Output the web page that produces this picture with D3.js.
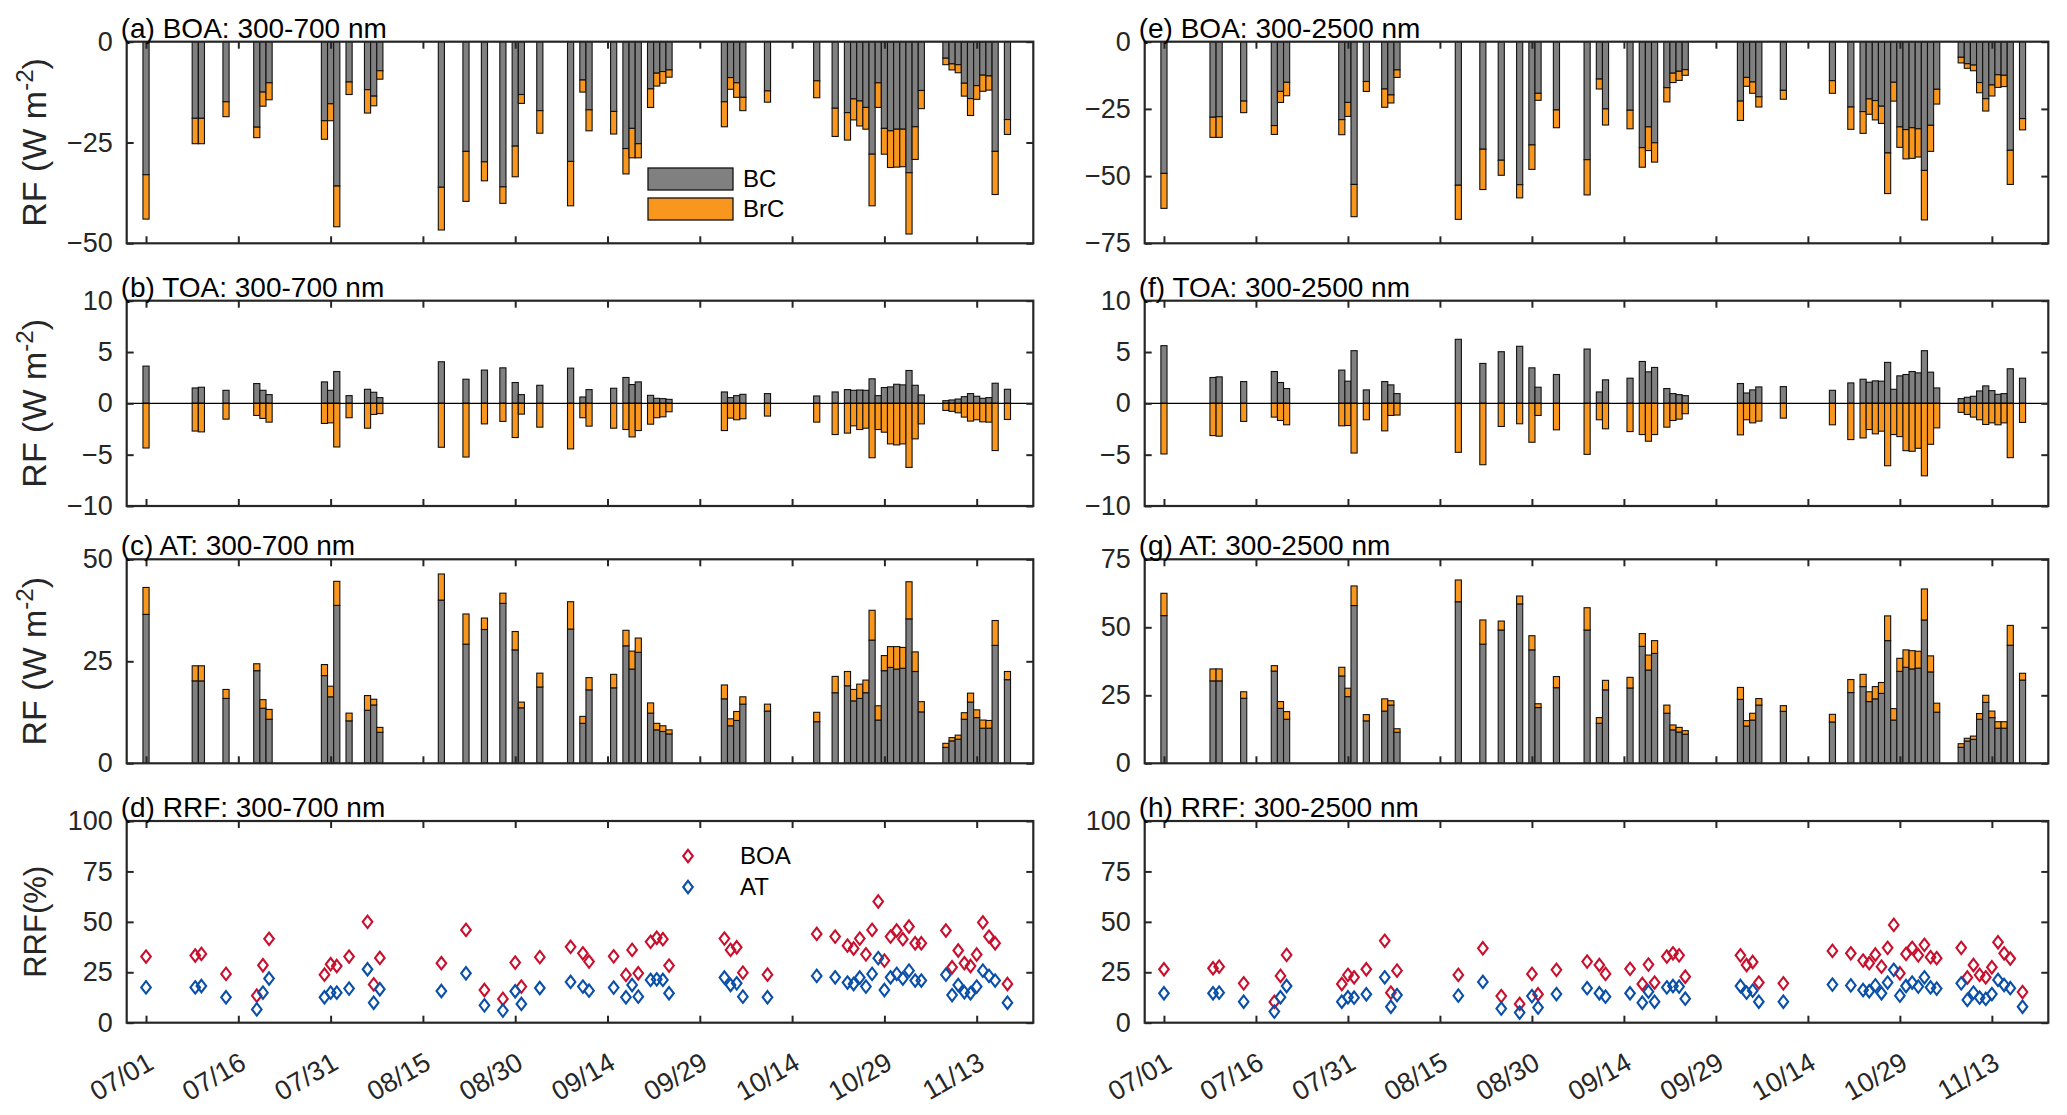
<!DOCTYPE html>
<html>
<head>
<meta charset="utf-8">
<script src="https://cdn.jsdelivr.net/npm/d3@7"></script>
<style>
  body { margin: 0; background: #fff; }
  svg { display: block; }
</style>
</head>
<body>
<div class="chart"></div>
<script>
// sampling days (MM/DD)
const dates = ['07/01','07/09','07/10','07/14','07/19','07/20','07/21','07/30','07/31','08/01',
  '08/03','08/06','08/07','08/08','08/18','08/22','08/25','08/28','08/30','08/31',
  '09/03','09/08','09/10','09/11','09/15','09/17','09/18','09/19','09/21','09/22',
  '09/23','09/24','10/03','10/04','10/05','10/06','10/10','10/18','10/21','10/23',
  '10/24','10/25','10/26','10/27','10/28','10/29','10/30','10/31','11/01','11/02',
  '11/03','11/04','11/08','11/09','11/10','11/11','11/12','11/13','11/14','11/15',
  '11/16','11/18'];
const tickDates = ['07/01','07/16','07/31','08/15','08/30','09/14','09/29','10/14','10/29','11/13'];

// 300-700 nm
const boa700BC = [-33.0,-19.0,-19.0,-14.9,-21.2,-12.5,-10.2,-19.6,-15.4,-35.8,-10.0,-11.9,-13.5,-7.2,-36.1,-27.2,-29.8,-36.0,-25.9,-13.1,
  -17.1,-29.7,-9.5,-16.9,-17.3,-26.5,-21.5,-25.3,-11.7,-7.8,-7.4,-7.0,-14.9,-8.9,-10.2,-13.8,-12.2,-9.7,-16.5,-17.6,
  -14.2,-14.7,-16.3,-27.9,-10.2,-21.5,-22.1,-21.7,-21.7,-32.5,-21.1,-12.1,-4.1,-5.5,-5.7,-10.3,-14.1,-10.9,-8.3,-8.5,-27.2,-19.3];
const boa700BrC = [-11.0,-6.3,-6.3,-3.7,-2.6,-3.5,-4.2,-4.6,-4.2,-10.1,-3.1,-5.8,-2.4,-2.1,-10.6,-12.4,-4.7,-4.1,-7.6,-2.2,
  -5.6,-11.0,-3.0,-5.2,-5.6,-6.3,-7.3,-3.5,-4.6,-3.2,-2.9,-1.8,-6.2,-2.9,-3.6,-3.3,-2.8,-4.2,-7.0,-6.8,
  -5.2,-6.2,-5.4,-12.8,-6.1,-6.4,-9.1,-9.4,-9.3,-15.2,-8.1,-4.5,-1.6,-1.5,-2.0,-3.2,-4.2,-3.4,-4.0,-3.5,-10.7,-3.7];
const toa700BC = [3.63,1.5,1.57,1.27,1.93,1.27,0.85,2.09,1.27,3.1,0.75,1.37,1.08,0.56,4.05,2.35,3.24,3.46,2.03,0.85,
  1.76,3.43,0.62,1.34,1.47,2.52,1.83,2.09,0.78,0.49,0.46,0.39,1.11,0.56,0.75,0.88,0.95,0.72,1.11,1.34,
  1.27,1.3,1.27,2.39,0.75,1.54,1.6,1.86,1.8,3.2,1.76,0.82,0.26,0.33,0.42,0.65,0.95,0.69,0.49,0.56,1.96,1.37];
const toa700BrC = [-4.35,-2.7,-2.78,-1.54,-1.18,-1.47,-1.83,-1.96,-1.9,-4.25,-1.4,-2.42,-1.08,-1.0,-4.28,-5.23,-2.0,-1.76,-3.33,-1.05,
  -2.32,-4.44,-1.4,-2.22,-2.42,-2.55,-3.27,-2.65,-2.03,-1.4,-1.31,-0.82,-2.65,-1.44,-1.6,-1.5,-1.24,-1.83,-3.04,-2.9,
  -2.19,-2.55,-2.42,-5.3,-2.55,-2.81,-3.95,-4.05,-3.95,-6.24,-3.46,-2.0,-0.69,-0.78,-0.92,-1.34,-1.73,-1.6,-1.8,-1.83,-4.6,-1.57];
const at700BC = [36.5,20.2,20.2,15.9,22.7,13.5,10.8,21.5,16.3,38.7,10.4,13.0,14.3,7.6,40.0,29.2,32.8,39.2,27.8,13.6,
  18.7,32.9,9.8,18.0,18.5,28.8,23.1,27.2,12.3,8.2,7.8,7.2,15.8,9.2,10.5,14.5,12.8,10.2,17.3,19.0,
  15.3,15.9,17.3,30.2,10.6,22.7,23.5,23.1,23.3,35.4,22.5,12.6,3.9,5.5,5.9,10.8,15.0,11.2,8.6,8.6,28.9,20.5];
const at700BrC = [6.6,3.7,3.7,2.2,1.7,2.1,2.4,2.7,2.6,5.9,1.9,3.6,1.4,1.2,6.4,7.4,2.8,2.5,4.5,1.4,
  3.4,6.7,1.7,3.0,3.3,3.8,4.4,3.5,2.5,1.6,1.4,1.0,3.4,1.7,2.2,1.8,1.7,2.3,4.0,3.5,
  2.8,3.5,3.1,7.3,3.5,3.7,5.1,5.5,5.1,9.1,4.8,2.5,1.0,0.8,1.0,1.6,2.2,1.9,2.0,1.9,6.1,2.0];
const rrf700BOA = [32.8,33.3,34.1,24.2,13.4,28.5,41.6,23.8,29.0,28.1,32.8,50.0,19.0,32.1,29.5,46.0,16.2,11.8,29.8,17.9,
  32.5,37.6,34.4,30.3,32.9,23.7,36.1,24.5,40.1,42.1,41.4,28.3,41.7,36.1,37.4,24.8,23.8,44.0,42.7,38.2,
  36.8,41.7,33.9,46.0,60.1,30.8,42.7,45.7,41.4,47.7,39.4,39.4,45.7,27.5,35.8,29.5,28.1,33.8,49.7,42.7,39.4,19.2];
const rrf700AT = [17.5,17.5,18.2,12.6,6.6,14.9,21.9,12.6,14.9,14.9,16.9,26.5,9.9,16.6,15.7,24.5,8.6,6.0,15.6,9.3,
  17.2,20.2,17.9,15.9,17.4,12.6,18.7,12.9,21.2,21.5,21.2,14.6,22.4,18.7,19.5,12.9,12.6,23.2,22.5,19.9,
  19.2,22.4,17.9,24.2,32.0,16.2,22.5,24.2,21.9,25.8,20.9,20.9,23.8,13.7,18.7,15.1,14.6,17.9,25.8,23.2,20.9,9.9];

// 300-2500 nm
const boa2500BC = [-49.0,-28.1,-27.9,-22.1,-31.2,-18.5,-15.1,-29.0,-22.6,-53.1,-14.8,-17.6,-19.8,-10.5,-53.4,-40.0,-44.1,-53.2,-38.4,-19.2,
  -25.4,-43.9,-13.9,-25.0,-25.5,-39.4,-31.7,-37.6,-17.1,-11.7,-11.0,-10.4,-22.1,-13.3,-15.0,-20.5,-18.1,-14.5,-24.3,-26.0,
  -21.3,-21.9,-24.0,-41.4,-15.1,-31.7,-32.7,-32.0,-32.4,-47.9,-31.1,-17.7,-5.8,-8.2,-8.7,-15.2,-21.2,-16.1,-12.3,-12.5,-40.4,-28.6];
const boa2500BrC = [-13.0,-7.5,-7.7,-4.3,-3.3,-4.1,-5.0,-5.6,-5.2,-12.0,-3.7,-6.8,-3.0,-2.8,-12.7,-15.0,-5.6,-4.9,-9.1,-2.6,
  -6.6,-13.1,-3.7,-6.0,-6.9,-7.3,-8.8,-7.2,-5.3,-3.5,-3.4,-2.1,-7.2,-3.3,-4.2,-3.8,-3.3,-4.7,-8.3,-8.1,
  -5.7,-7.2,-6.4,-15.1,-7.0,-7.6,-10.9,-11.4,-10.5,-18.4,-9.7,-5.5,-2.1,-1.7,-2.1,-3.8,-4.6,-4.1,-4.7,-4.2,-12.7,-4.2];
const toa2500BC = [5.62,2.52,2.58,2.12,3.1,2.03,1.44,3.24,2.16,5.13,1.31,2.12,1.8,0.95,6.24,3.89,5.03,5.56,3.46,1.57,
  2.81,5.29,1.11,2.29,2.45,4.08,3.07,3.5,1.44,0.95,0.85,0.75,1.93,1.01,1.31,1.6,1.63,1.27,1.99,2.35,
  2.06,2.19,2.16,3.99,1.37,2.68,2.81,3.1,2.97,5.13,3.04,1.5,0.46,0.59,0.69,1.21,1.7,1.24,0.88,0.95,3.37,2.45];
const toa2500BrC = [-4.93,-3.14,-3.2,-1.76,-1.34,-1.67,-2.09,-2.19,-2.16,-4.84,-1.6,-2.68,-1.18,-1.14,-4.77,-5.98,-2.25,-1.99,-3.79,-1.18,
  -2.58,-4.97,-1.6,-2.48,-2.75,-3.04,-3.69,-3.04,-2.32,-1.67,-1.54,-1.01,-3.07,-1.6,-1.9,-1.73,-1.44,-2.09,-3.53,-3.37,
  -2.55,-2.97,-2.71,-6.08,-3.04,-3.24,-4.61,-4.67,-4.38,-7.06,-3.99,-2.39,-0.88,-1.08,-1.34,-1.6,-2.06,-1.9,-2.09,-1.9,-5.29,-1.86];
const at2500BC = [54.3,30.3,30.3,23.9,33.9,20.2,16.2,32.1,24.5,58.0,15.6,19.2,21.4,11.4,59.4,43.8,49.0,58.6,41.7,20.5,
  27.8,49.0,14.7,27.0,27.7,43.0,34.3,40.4,18.4,12.3,11.5,10.7,23.5,13.7,15.9,21.4,19.1,15.2,26.0,28.2,
  22.7,23.7,25.7,45.1,15.9,33.8,35.3,34.7,35.0,52.7,33.6,18.8,5.9,8.2,8.8,16.2,22.4,16.8,12.9,12.9,43.4,30.6];
const at2500BrC = [8.2,4.4,4.4,2.4,2.0,2.5,2.8,3.2,3.1,7.2,2.3,4.5,1.6,1.3,8.0,8.9,3.3,2.9,5.2,1.4,
  4.1,8.2,2.1,3.5,3.9,4.7,5.5,4.7,3.0,1.8,1.7,1.3,4.4,2.0,2.5,2.4,2.1,2.8,4.8,4.5,
  3.6,4.5,4.0,9.1,4.2,4.8,6.4,6.7,6.2,11.4,5.9,3.3,1.3,1.0,1.2,2.1,2.6,2.4,2.4,2.4,7.3,2.5];
const rrf2500BOA = [26.5,27.0,27.8,19.5,10.3,23.2,33.6,19.2,23.7,22.5,26.5,40.6,14.9,25.8,23.7,36.9,13.2,9.3,24.2,14.1,
  26.2,30.3,28.6,24.2,26.7,19.2,28.8,19.9,32.8,34.4,33.4,22.8,33.4,28.6,30.1,19.9,19.5,35.6,34.4,30.8,
  29.5,33.8,27.8,37.1,48.5,24.5,34.1,37.1,33.4,38.6,32.5,32.0,37.1,22.4,28.6,23.7,22.5,27.5,39.9,34.4,31.8,15.2];
const rrf2500AT = [14.6,14.6,14.9,10.4,5.5,12.6,18.2,10.4,12.6,12.4,14.1,22.5,7.9,13.7,13.4,20.2,7.0,5.0,13.2,7.5,
  14.2,17.1,14.6,12.9,14.6,9.9,15.4,10.4,17.5,18.2,17.9,11.9,18.2,14.9,15.9,10.4,10.4,18.9,18.5,16.2,
  15.6,18.5,14.6,19.9,26.2,13.4,18.2,19.9,17.9,22.5,17.5,16.9,19.5,11.3,14.9,12.4,11.8,14.2,21.2,18.7,17.1,7.9];

const width = 2067, height = 1115;
const fontFamily = '"Liberation Sans", Arial, Helvetica, sans-serif';
const axisColor = '#262626';
const grayFill = '#808080', orangeFill = '#f8961e';
const redMark = '#c8102e', blueMark = '#0a4fa8';

const parse = d3.utcParse('%Y/%m/%d');
const toDate = s => parse('2019/' + s);
const DAY = 864e5;
const day0 = toDate('07/01').getTime();

const cols = [{x0: 126.7, x1: 1033.3}, {x0: 1144.7, x1: 2048.3}];
const rows = [{top: 41.7, bottom: 243.3}, {top: 300.7, bottom: 506}, {top: 559.3, bottom: 763.3}, {top: 821, bottom: 1022.7}];

const panels = [
  {col: 0, row: 0, title: '(a) BOA: 300-700 nm', type: 'stack', bc: boa700BC, brc: boa700BrC, dom: [-50, 0], ticks: [-50, -25, 0], ylab: 'rf', legend: 'bars'},
  {col: 0, row: 1, title: '(b) TOA: 300-700 nm', type: 'toa', bc: toa700BC, brc: toa700BrC, dom: [-10, 10], ticks: [-10, -5, 0, 5, 10], ylab: 'rf'},
  {col: 0, row: 2, title: '(c) AT: 300-700 nm', type: 'stack', bc: at700BC, brc: at700BrC, dom: [0, 50], ticks: [0, 25, 50], ylab: 'rf'},
  {col: 0, row: 3, title: '(d) RRF: 300-700 nm', type: 'rrf', boa: rrf700BOA, at: rrf700AT, dom: [0, 100], ticks: [0, 25, 50, 75, 100], ylab: 'rrf', legend: 'marks'},
  {col: 1, row: 0, title: '(e) BOA: 300-2500 nm', type: 'stack', bc: boa2500BC, brc: boa2500BrC, dom: [-75, 0], ticks: [-75, -50, -25, 0]},
  {col: 1, row: 1, title: '(f) TOA: 300-2500 nm', type: 'toa', bc: toa2500BC, brc: toa2500BrC, dom: [-10, 10], ticks: [-10, -5, 0, 5, 10]},
  {col: 1, row: 2, title: '(g) AT: 300-2500 nm', type: 'stack', bc: at2500BC, brc: at2500BrC, dom: [0, 75], ticks: [0, 25, 50, 75]},
  {col: 1, row: 3, title: '(h) RRF: 300-2500 nm', type: 'rrf', boa: rrf2500BOA, at: rrf2500AT, dom: [0, 100], ticks: [0, 25, 50, 75, 100]}
];

const svg = d3.select('.chart')
  .append('svg')
  .attr('width', width)
  .attr('height', height)
  .attr('font-family', fontFamily);

const diamond = 'M0,-6.2L4.8,0L0,6.2L-4.8,0Z';

panels.forEach(p => {
  let c = cols[p.col], r = rows[p.row];

  // x axis - date, from 06/27 evening to 11/22 morning
  let x = d3.scaleUtc()
    .domain([new Date(day0 - 3.14 * DAY), new Date(day0 + 144.2 * DAY)])
    .range([c.x0, c.x1]);
  let y = d3.scaleLinear()
    .domain(p.dom)
    .range([r.bottom, r.top]);

  let g = svg.append('g');

  // bars / points
  if (p.type === 'rrf') {
    [[p.boa, redMark], [p.at, blueMark]].forEach(([vals, col]) => {
      g.append('g')
        .selectAll('path')
        .data(vals)
        .enter().append('path')
        .attr('d', diamond)
        .attr('transform', (v, i) => `translate(${x(toDate(dates[i]))}, ${y(v)})`)
        .attr('fill', 'none')
        .attr('stroke', col)
        .attr('stroke-width', 2.1);
    });
  } else {
    let bars = dates.map((s, i) => {
      let t = toDate(s).getTime();
      let base = p.type === 'toa' ? 0 : p.bc[i];
      return {
        xa: x(new Date(t - DAY / 2)), xb: x(new Date(t + DAY / 2)),
        bc: p.bc[i], brcFrom: base, brcTo: base + p.brc[i]
      };
    });
    let segs = g.append('g');
    bars.forEach(b => {
      segs.append('rect')
        .attr('x', b.xa).attr('width', b.xb - b.xa)
        .attr('y', Math.min(y(0), y(b.bc)))
        .attr('height', Math.abs(y(0) - y(b.bc)))
        .attr('fill', grayFill).attr('stroke', '#111').attr('stroke-width', 1.1);
      segs.append('rect')
        .attr('x', b.xa).attr('width', b.xb - b.xa)
        .attr('y', Math.min(y(b.brcFrom), y(b.brcTo)))
        .attr('height', Math.abs(y(b.brcFrom) - y(b.brcTo)))
        .attr('fill', orangeFill).attr('stroke', '#111').attr('stroke-width', 1.1);
    });
    if (p.type === 'toa') {
      g.append('line')
        .attr('x1', c.x0).attr('x2', c.x1)
        .attr('y1', y(0)).attr('y2', y(0))
        .attr('stroke', '#000').attr('stroke-width', 1.2);
    }
  }

  // axes, ticks inside on all four sides
  let tickVals = tickDates.map(toDate);
  let left = g.append('g')
    .attr('transform', `translate(${c.x0}, 0)`)
    .call(d3.axisLeft(y).tickValues(p.ticks).tickSize(-7).tickPadding(14).tickFormat(d3.format('d')));
  left.selectAll('text')
    .attr('font-size', '27px').attr('font-family', fontFamily).attr('fill', '#262626');
  g.append('g')
    .attr('transform', `translate(${c.x1}, 0)`)
    .call(d3.axisRight(y).tickValues(p.ticks).tickSize(-7).tickFormat(''));
  let bottom = g.append('g')
    .attr('transform', `translate(0, ${r.bottom})`)
    .call(d3.axisBottom(x).tickValues(tickVals).tickSize(-7)
      .tickFormat(p.row === 3 ? d3.utcFormat('%m/%d') : ''));
  g.append('g')
    .attr('transform', `translate(0, ${r.top})`)
    .call(d3.axisTop(x).tickValues(tickVals).tickSize(-7).tickFormat(''));
  g.selectAll('.domain').remove();
  g.selectAll('.tick line').attr('stroke', axisColor).attr('stroke-width', 2);

  if (p.row === 3) {
    bottom.selectAll('text')
      .attr('font-size', '27px').attr('font-family', fontFamily).attr('fill', '#262626')
      .attr('text-anchor', 'end')
      .attr('y', 0).attr('dy', 0)
      .attr('transform', 'translate(9, 45) rotate(-30)');
  }

  // box
  g.append('rect')
    .attr('x', c.x0).attr('y', r.top)
    .attr('width', c.x1 - c.x0).attr('height', r.bottom - r.top)
    .attr('fill', 'none').attr('stroke', axisColor).attr('stroke-width', 2.2);

  // panel title
  g.append('text')
    .attr('x', c.x0 - 6).attr('y', r.top - 4)
    .attr('font-size', '28px').attr('fill', '#000')
    .text(p.title);

  // y label
  if (p.ylab) {
    let lab = g.append('text')
      .attr('transform', `translate(46, ${(r.top + r.bottom) / 2}) rotate(-90)`)
      .attr('text-anchor', 'middle')
      .attr('fill', '#262626');
    if (p.ylab === 'rf') {
      lab.attr('font-size', '34px');
      lab.append('tspan').text('RF (W m');
      lab.append('tspan').attr('dy', -13).attr('font-size', '24px').text('-2');
      lab.append('tspan').attr('dy', 13).text(')');
    } else {
      lab.attr('font-size', '31px').text('RRF(%)');
    }
  }

  // legends
  if (p.legend === 'bars') {
    [['BC', grayFill, 168], ['BrC', orangeFill, 198]].forEach(([name, fill, ly]) => {
      g.append('rect')
        .attr('x', 648).attr('y', ly).attr('width', 85).attr('height', 22)
        .attr('fill', fill).attr('stroke', '#111').attr('stroke-width', 1.3);
      g.append('text')
        .attr('x', 743).attr('y', ly + 11).attr('dy', '0.35em')
        .attr('font-size', '24px').attr('fill', '#000')
        .text(name);
    });
  }
  if (p.legend === 'marks') {
    [['BOA', redMark, 856], ['AT', blueMark, 887]].forEach(([name, col, ly]) => {
      g.append('path')
        .attr('d', diamond)
        .attr('transform', `translate(688, ${ly})`)
        .attr('fill', 'none').attr('stroke', col).attr('stroke-width', 2.1);
      g.append('text')
        .attr('x', 740).attr('y', ly).attr('dy', '0.35em')
        .attr('font-size', '24px').attr('fill', '#000')
        .text(name);
    });
  }
});
</script>
</body>
</html>
